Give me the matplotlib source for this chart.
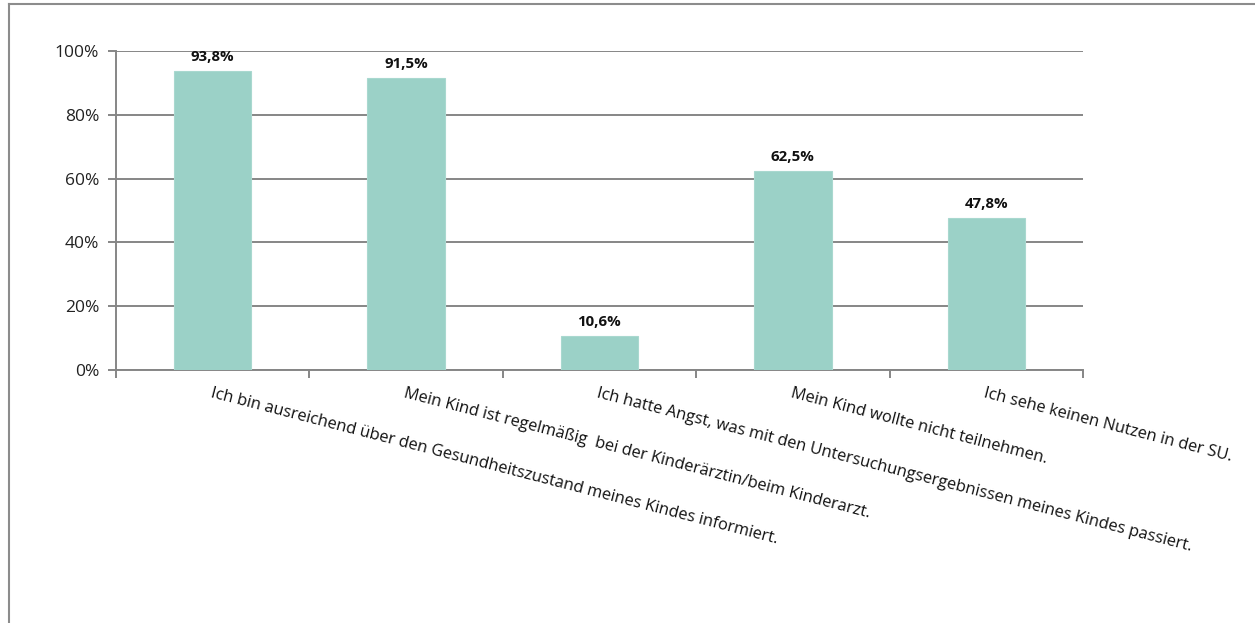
import matplotlib.pyplot as plt
from matplotlib.lines import Line2D
from matplotlib.ticker import FixedLocator

categories = [
    "Ich bin ausreichend über den Gesundheitszustand meines Kindes informiert.",
    "Mein Kind ist regelmäßig  bei der Kinderärztin/beim Kinderarzt.",
    "Ich hatte Angst, was mit den Untersuchungsergebnissen meines Kindes passiert.",
    "Mein Kind wollte nicht teilnehmen.",
    "Ich sehe keinen Nutzen in der SU.",
]
values = [93.8, 91.5, 10.6, 62.5, 47.8]
value_labels = ["93,8%", "91,5%", "10,6%", "62,5%", "47,8%"]
ytick_vals = [0, 20, 40, 60, 80, 100]
ytick_labels = ["0%", "20%", "40%", "60%", "80%", "100%"]

plt.rcParams['font.family'] = ['Open Sans', 'DejaVu Sans']

fig = plt.figure(figsize=(12.55, 6.23), dpi=100)
ax = fig.add_axes([0.0924, 0.406, 0.7705, 0.512])

grey = "#868686"
x = list(range(len(values)))
ax.bar(x, values, width=0.4, color="#9bd1c7", edgecolor="#a9d8cf", linewidth=0.8, zorder=3)

for xi, v, lab in zip(x, values, value_labels):
    ax.annotate(lab, (xi, v), xytext=(0, 5), textcoords="offset points",
                ha="center", va="bottom", fontsize=10.8, fontweight="bold", color="#111111")

ax.set_xlim(-0.5, len(values) - 0.5)
ax.set_ylim(0, 100)
ax.set_yticks(ytick_vals)
ax.set_yticklabels(ytick_labels, fontsize=12.5, color="#222222")
ax.yaxis.grid(True, color=grey, linewidth=1.4, zorder=0)
ax.tick_params(axis="y", length=6, width=1.4, color=grey, pad=6)

ax.set_xticks(x)
ax.set_xticklabels([])
ax.tick_params(axis="x", which="major", length=0)
ax.xaxis.set_minor_locator(FixedLocator([i - 0.5 for i in range(len(values) + 1)]))
ax.tick_params(axis="x", which="minor", length=6, width=1.4, color=grey)

for xi, cat in zip(x, categories):
    ax.annotate(cat, (xi, 0), xytext=(0, -11), textcoords="offset points",
                ha="left", va="top", rotation=-14.5, rotation_mode="anchor",
                fontsize=11.8, color="#111111")

for side in ["top", "right"]:
    ax.spines[side].set_visible(False)
for side in ["left", "bottom"]:
    ax.spines[side].set_color(grey)
    ax.spines[side].set_linewidth(1.4)

# outer chart frame (only top and left edges visible in crop)
fig.add_artist(Line2D([9 / 1255, 1], [1 - 4 / 623, 1 - 4 / 623], transform=fig.transFigure,
                      color="#8c8c8c", linewidth=1.5))
fig.add_artist(Line2D([9 / 1255, 9 / 1255], [0, 1 - 4 / 623], transform=fig.transFigure,
                      color="#8c8c8c", linewidth=1.5))

fig.savefig("out.png", dpi=100)
